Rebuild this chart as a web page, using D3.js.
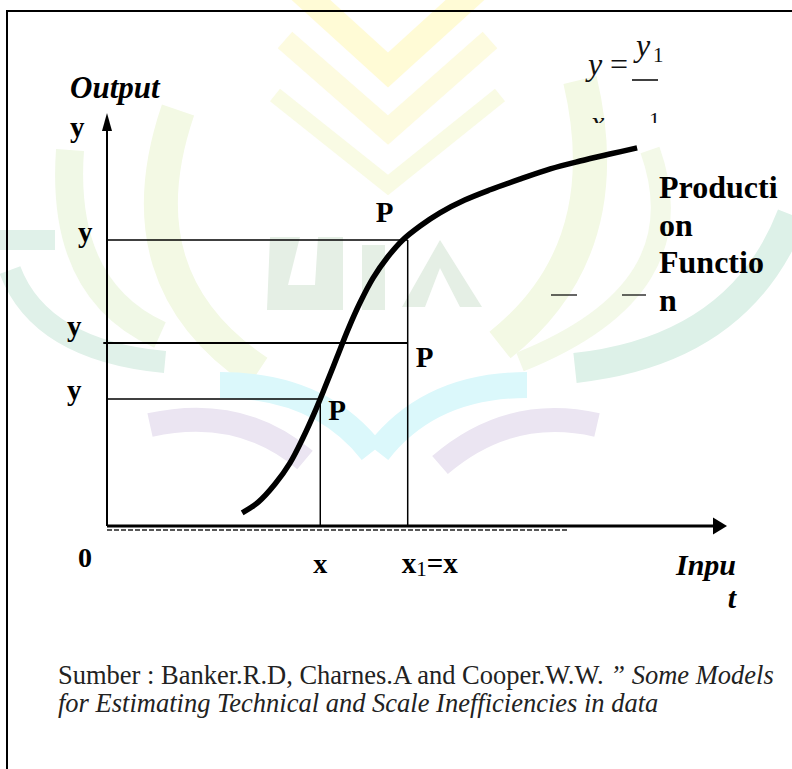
<!DOCTYPE html>
<html>
<head>
<meta charset="utf-8">
<script src="https://cdn.jsdelivr.net/npm/d3@7"></script>
<style>
  body { margin: 0; background: #fff; }
  svg { display: block; font-family: "Liberation Serif", "Times New Roman", serif; }
</style>
</head>
<body>
<div id="chart"></div>
<script>
// Production function curve (input, output in axis units 0-100)
const curveInput  = [21.8, 24.4, 27.1, 29.5, 31.6, 33.5, 35.3, 37.1, 38.9, 40.8, 42.9, 45.3, 47.7,
                     50.5, 53.7, 57.7, 61.8, 66.6, 71.5, 76.3, 81.1, 85.5]
const curveOutput = [3.2, 5.8, 10.2, 15.3, 21.4, 27.7, 34.3, 41.1, 47.9, 54.3, 60.3, 65.5, 69.6,
                     73.0, 76.2, 79.3, 81.8, 84.4, 86.9, 88.8, 90.5, 92.0]

// Guide lines through the three points P
const guideOutput = [69.6, 44.5, 30.9]
const guideFrom   = [0, -0.6, 0]
const guideInput  = [48.5, 48.5, 34.4]
const pLabels     = ["P", "P", "P"]

// Axis labels
const yLabels = ["y", "y", "y", "y"]
const xLabels = ["0", "x", "x1=x"]
const dashedEnd = 74.4

const w = 792, h = 769

const svg = d3.select("#chart").append("svg")
    .attr("width", w)
    .attr("height", h)

// faint logo in the background
const wm = svg.append("g").attr("fill", "none").attr("stroke-linecap", "butt")
const marks = [
    // yellow leaf
    ["M300,-10 L388,70 L476,-10", "#fffbd6", 26],
    ["M285,40 L388,130 L490,40", "#fdfbe0", 22],
    ["M275,95 L388,185 L500,95", "#f9fbe4", 16],
    // pale green crescents
    ["M178,110 Q120,280 258,372", "#f3f9e4", 34],
    ["M70,150 Q60,290 160,335", "#f0f8e6", 28],
    ["M580,80 Q620,250 500,345", "#f3f9e4", 34],
    ["M650,150 Q700,290 520,362", "#f3f9e8", 20],
    // teal crescents
    ["M0,240 L55,240", "#e0f1e9", 20],
    ["M10,270 Q40,350 165,362", "#e0f1e9", 22],
    ["M792,215 Q740,350 575,368", "#ddf1e8", 30],
    // cyan wings
    ["M220,385 Q320,385 372,452", "#dbf8fb", 26],
    ["M527,385 Q430,385 378,452", "#dbf8fb", 26],
    // lavender wings
    ["M150,425 Q240,405 305,460", "#ebe5f2", 24],
    ["M597,425 Q510,405 440,465", "#ebe5f2", 24]
]
wm.selectAll("path").data(marks).join("path")
    .attr("d", d => d[0])
    .attr("stroke", d => d[1])
    .attr("stroke-width", d => d[2])

// letters of the logo
const letters = svg.append("g").attr("fill", "#e5efe5")
letters.append("path").attr("d", "M270,237 L300,237 L288,285 L315,285 L318,237 L343,237 L343,310 L267,310 Z")
letters.append("rect").attr("x", 362).attr("y", 245).attr("width", 23).attr("height", 65)
letters.append("path").attr("d", "M402,307 L440,240 L482,307 L460,307 L440,268 L425,307 Z")

// frame
svg.append("line").attr("x1", 7).attr("x2", w).attr("y1", 11).attr("y2", 11)
    .attr("stroke", "#000").attr("stroke-width", 2)
svg.append("line").attr("x1", 7).attr("x2", 7).attr("y1", 10).attr("y2", h)
    .attr("stroke", "#000").attr("stroke-width", 2)

// scales
const x = d3.scaleLinear().domain([0, 100]).range([107, 727])
const y = d3.scaleLinear().domain([0, 100]).range([526, 115])

const g = svg.append("g")

// dashed line under x axis
g.append("line")
    .attr("x1", x(0)).attr("x2", x(dashedEnd))
    .attr("y1", y(0) + 4).attr("y2", y(0) + 4)
    .attr("stroke", "#222").attr("stroke-width", 1.5)
    .attr("stroke-dasharray", "5,2")

// guides
guideOutput.forEach((v, i) => {
    g.append("line")
        .attr("x1", x(guideFrom[i])).attr("x2", x(guideInput[i]))
        .attr("y1", y(v)).attr("y2", y(v))
        .attr("stroke", "#000").attr("stroke-width", i === 1 ? 2 : 1.5)
})
const verticals = [[guideInput[0], guideOutput[0]], [guideInput[2], guideOutput[2]]]
verticals.forEach(d => {
    g.append("line")
        .attr("x1", x(d[0])).attr("x2", x(d[0]))
        .attr("y1", y(0)).attr("y2", y(d[1]))
        .attr("stroke", "#000").attr("stroke-width", 1.5)
})

// axes with arrows
g.append("line")
    .attr("x1", x(0)).attr("x2", x(0))
    .attr("y1", y(0)).attr("y2", y(100) + 14)
    .attr("stroke", "#000").attr("stroke-width", 2)
g.append("path")
    .attr("d", `M${x(0)},${y(100) - 2} L${x(0) - 5},${y(100) + 16} L${x(0) + 5},${y(100) + 16} Z`)
    .attr("fill", "#000")
g.append("line")
    .attr("x1", x(0)).attr("x2", x(100) - 12)
    .attr("y1", y(0)).attr("y2", y(0))
    .attr("stroke", "#000").attr("stroke-width", 3)
g.append("path")
    .attr("d", `M${x(100)},${y(0)} L${x(100) - 14},${y(0) - 8.5} L${x(100) - 14},${y(0) + 8.5} Z`)
    .attr("fill", "#000")

// production function curve
const line = d3.line()
    .x((d, i) => x(curveInput[i]))
    .y(d => y(d))
    .curve(d3.curveCatmullRom)
g.append("path")
    .datum(curveOutput)
    .attr("d", line)
    .attr("fill", "none")
    .attr("stroke", "#000")
    .attr("stroke-width", 5.5)

// labels
const bold = sel => sel.attr("font-weight", "bold").attr("fill", "#000")

svg.append("text").text("Output")
    .attr("x", 70).attr("y", 98)
    .attr("font-size", 31).attr("font-style", "italic")
    .call(bold)

const yLabelPos = [[-37, y(100) + 22], [-29, y(guideOutput[0]) + 2], [-40, y(guideOutput[1]) - 7], [-40, y(guideOutput[2]) + 1]]
svg.selectAll(".ylab").data(yLabels).join("text")
    .attr("class", "ylab")
    .text(d => d)
    .attr("x", (d, i) => x(0) + yLabelPos[i][0])
    .attr("y", (d, i) => yLabelPos[i][1])
    .attr("font-size", 29)
    .call(bold)

const pOffsets = [[-32, -18], [8, 24], [8, 21]]
const pAt = [[guideInput[0], guideOutput[0]], [guideInput[1], guideOutput[1]], [guideInput[2], guideOutput[2]]]
svg.selectAll(".plab").data(pLabels).join("text")
    .attr("class", "plab")
    .text(d => d)
    .attr("x", (d, i) => x(pAt[i][0]) + pOffsets[i][0])
    .attr("y", (d, i) => y(pAt[i][1]) + pOffsets[i][1])
    .attr("font-size", 29)
    .call(bold)

// x labels
svg.append("text").text(xLabels[0])
    .attr("x", x(0) - 29).attr("y", 567)
    .attr("font-size", 28).call(bold)
svg.append("text").text(xLabels[1])
    .attr("x", x(guideInput[2]) - 7).attr("y", 573)
    .attr("font-size", 28).call(bold)
const x1t = svg.append("text")
    .attr("x", x(guideInput[0]) - 6).attr("y", 573)
    .attr("font-size", 29).call(bold)
x1t.append("tspan").text(xLabels[2].slice(0, 1))
x1t.append("tspan").text(xLabels[2].slice(1, 2)).attr("font-size", 21).attr("font-weight", "normal").attr("dy", 3)
x1t.append("tspan").text(xLabels[2].slice(2)).attr("dy", -3)

svg.append("text").text("Inpu")
    .attr("x", 736).attr("y", 575).attr("text-anchor", "end")
    .attr("font-size", 30).attr("font-style", "italic").call(bold)
svg.append("text").text("t")
    .attr("x", 736).attr("y", 608).attr("text-anchor", "end")
    .attr("font-size", 30).attr("font-style", "italic").call(bold)

// Production function label (wrapped as in the source)
const pf = ["Producti", "on", "Functio", "n"]
svg.selectAll(".pf").data(pf).join("text")
    .attr("class", "pf")
    .text(d => d)
    .attr("x", 659)
    .attr("y", (d, i) => 198 + i * 37.7)
    .attr("font-size", 32)
    .call(bold)

// two small dashes
svg.selectAll(".dash").data([[551, 577], [622, 646]]).join("line")
    .attr("class", "dash")
    .attr("x1", d => d[0]).attr("x2", d => d[1])
    .attr("y1", 295).attr("y2", 295)
    .attr("stroke", "#000").attr("stroke-width", 1.2)

// formula y = y1 / x1 (lower part hidden as in the source)
svg.append("clipPath").attr("id", "fclip")
    .append("rect").attr("x", 560).attr("y", 0).attr("width", 120).attr("height", 123)
const f = svg.append("g").attr("clip-path", "url(#fclip)").attr("fill", "#111")
f.append("text").text("y").attr("x", 588).attr("y", 75)
    .attr("font-size", 32).attr("font-style", "italic")
f.append("text").text("=").attr("x", 610).attr("y", 75).attr("font-size", 32)
f.append("text").text("y").attr("x", 636).attr("y", 56)
    .attr("font-size", 32).attr("font-style", "italic")
f.append("text").text("1").attr("x", 653).attr("y", 62).attr("font-size", 21)
f.append("line").attr("x1", 632).attr("x2", 658).attr("y1", 80).attr("y2", 80)
    .attr("stroke", "#000").attr("stroke-width", 1.5)
f.append("text").text("x").attr("x", 591).attr("y", 132)
    .attr("font-size", 30).attr("font-style", "italic")
f.append("text").text("1").attr("x", 649).attr("y", 127).attr("font-size", 22)

// source note
const src1 = svg.append("text").attr("x", 58).attr("y", 684).attr("font-size", 26.5).attr("fill", "#222")
src1.append("tspan").text("Sumber : Banker.R.D, Charnes.A and Cooper.W.W.")
src1.append("tspan").text(" \u201d Some Models").attr("font-style", "italic")
svg.append("text").text("for Estimating Technical and Scale Inefficiencies in data")
    .attr("x", 58).attr("y", 712).attr("font-size", 26.5)
    .attr("font-style", "italic").attr("fill", "#222")
</script>
</body>
</html>
